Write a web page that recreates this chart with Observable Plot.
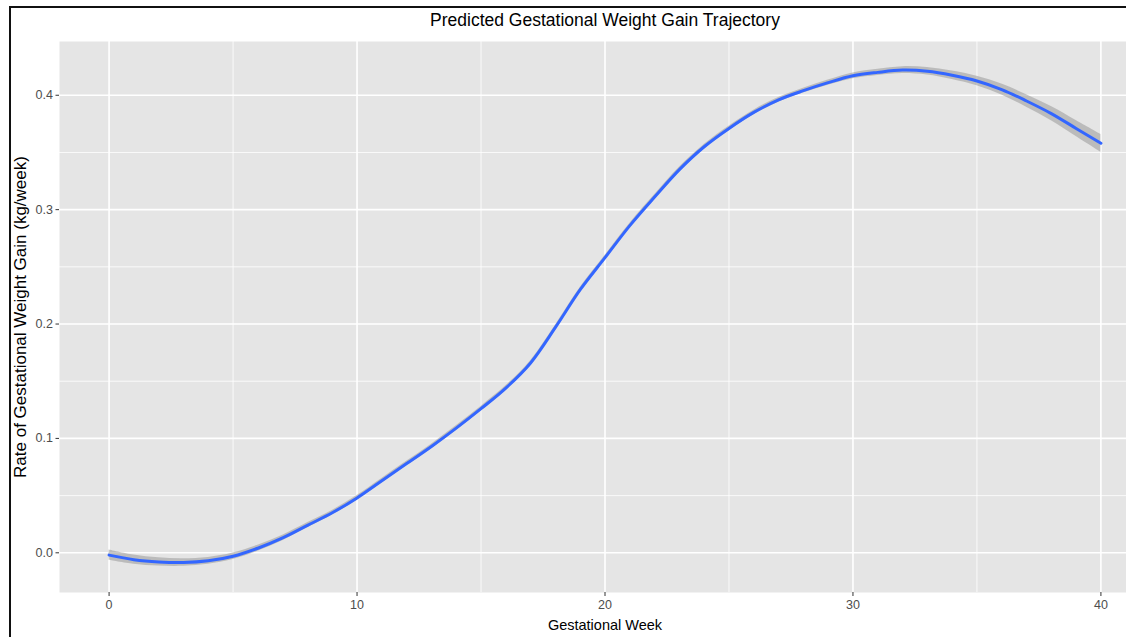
<!DOCTYPE html>
<html><head><meta charset="utf-8">
<script src="https://cdn.jsdelivr.net/npm/d3@7"></script>
<script src="https://cdn.jsdelivr.net/npm/@observablehq/plot@0.6"></script>
<style>
html,body{margin:0;padding:0;background:#fff;overflow:hidden;width:1126px;height:637px;}
#wrap{position:relative;width:1126px;height:637px;overflow:hidden;}
#chart svg{max-width:none !important;display:block;}
#border{position:absolute;left:9px;top:6px;width:2000px;height:2000px;border-top:2px solid #111;border-left:2px solid #111;pointer-events:none;}
</style></head><body><div id="wrap"><div id="chart"></div><div id="border"></div></div>
<script>
const weeks = [0,1,2,3,4,5,6,7,8,9,10,11,12,13,14,15,16,17,18,19,20,21,22,23,24,25,26,27,28,29,30,31,32,33,34,35,36,37,38,39,40];
const rate = [-0.002,-0.006,-0.008,-0.0085,-0.007,-0.003,0.004,0.013,0.024,0.035,0.048,0.063,0.078,0.093,0.109,0.126,0.144,0.166,0.197,0.230,0.258,0.286,0.311,0.335,0.355,0.371,0.385,0.396,0.404,0.411,0.417,0.420,0.422,0.421,0.4175,0.4125,0.405,0.395,0.384,0.371,0.358];
const se = [0.0045,0.004,0.0036,0.0033,0.003,0.0028,0.0026,0.0024,0.0022,0.002,0.002,0.002,0.002,0.002,0.002,0.002,0.002,0.002,0.002,0.002,0.002,0.002,0.002,0.002,0.002,0.002,0.002,0.002,0.0021,0.0023,0.0025,0.0027,0.003,0.0033,0.0037,0.0042,0.0048,0.0055,0.0062,0.007,0.0078];
const xTicks = [0,10,20,30,40];
const xMinor = [5,15,25,35];
const yTicks = [0,0.1,0.2,0.3,0.4];
const yMinor = [0.05,0.15,0.25,0.35];
const title = "Predicted Gestational Weight Gain Trajectory";
const xLabel = "Gestational Week";
const yLabel = "Rate of Gestational Weight Gain (kg/week)";

const data = weeks.map((w,i)=>({week:w, rate:rate[i], lo:rate[i]-se[i], hi:rate[i]+se[i]}));
const font = "'Liberation Sans', Arial, Helvetica, sans-serif";
const chart = Plot.plot({
  width: 1150, height: 637,
  marginLeft: 59, marginRight: 0, marginTop: 41, marginBottom: 45,
  x: {domain: [-2, 42]},
  y: {domain: [-0.0347, 0.447]},
  style: {fontFamily: font, background: "transparent", overflow: "visible", maxWidth: "none"},
  marks: [
    Plot.frame({fill: "#e5e5e5", stroke: "none"}),
    Plot.gridX(xMinor, {stroke: "#ffffff", strokeOpacity: 1, strokeWidth: 0.8}),
    Plot.gridY(yMinor, {stroke: "#ffffff", strokeOpacity: 1, strokeWidth: 0.8}),
    Plot.gridX(xTicks, {stroke: "#ffffff", strokeOpacity: 1, strokeWidth: 1.6}),
    Plot.gridY(yTicks, {stroke: "#ffffff", strokeOpacity: 1, strokeWidth: 1.6}),
    Plot.areaY(data, {x: "week", y1: "lo", y2: "hi", fill: "#999999", fillOpacity: 0.55, curve: "catmull-rom"}),
    Plot.lineY(data, {x: "week", y: "rate", stroke: "#3366FF", strokeWidth: 3, curve: "catmull-rom"}),
    Plot.axisX(xTicks, {tickSize: 4, tickPadding: 4, fontSize: 12.5, fill: "#4d4d4d", stroke: "#333333", label: null}),
    Plot.axisY(yTicks, {tickSize: 3.5, tickPadding: 3, fontSize: 12.5, fill: "#4d4d4d", stroke: "#333333", tickFormat: d3.format(".1f"), label: null}),
    Plot.text([title], {text: d => d, frameAnchor: "top", dy: -21, lineAnchor: "middle", textAnchor: "middle", fontSize: 17.5, fill: "#000"}),
    Plot.text([xLabel], {text: d => d, frameAnchor: "bottom", dy: 33, lineAnchor: "middle", textAnchor: "middle", fontSize: 14.5, fill: "#000"}),
    Plot.text([yLabel], {text: d => d, frameAnchor: "left", dx: -39, rotate: -90, lineAnchor: "middle", textAnchor: "middle", fontSize: 17, fill: "#000"})
  ]
});
document.getElementById("chart").appendChild(chart);
</script>
</body></html>
